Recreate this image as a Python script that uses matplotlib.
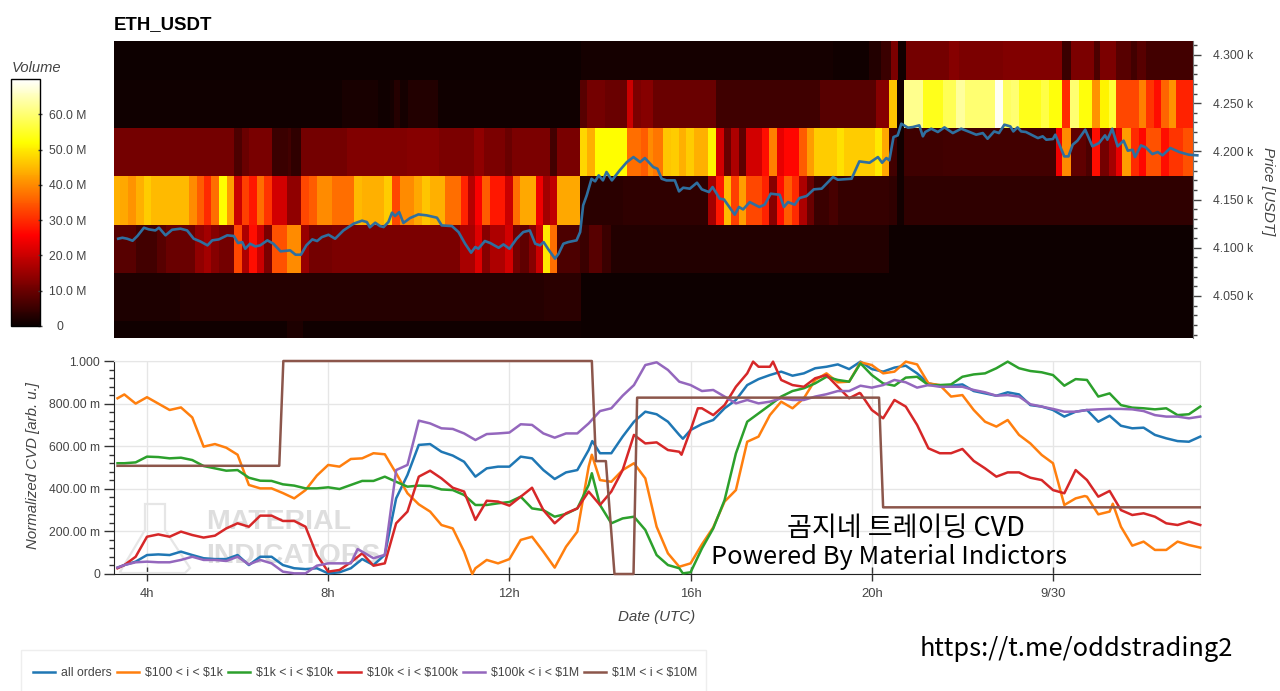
import numpy as np
import matplotlib
matplotlib.use("Agg")
import matplotlib.pyplot as plt
from matplotlib.patches import Rectangle, Polygon
from matplotlib.ticker import FixedLocator, MultipleLocator
from matplotlib.transforms import ScaledTranslation

plt.rcParams['font.family'] = ['Liberation Sans', 'DejaVu Sans']
plt.rcParams['text.parse_math'] = False

title = "ETH_USDT"
START_HOUR = 3.27
BAR_MINUTES = 8

# heatmap: bar-index edges and volume in millions for each price bin
edge_4300 = [0,78,120,126,128,129.7,130.9,132.2,139.4,141.1,148.3,158.3,159.7,163.6,164.6,167.2,169.7,170.8,172.2,180]
vol_4300 = [0.5,1.2,0.8,2.5,5,12,1,11,13,12,12.5,5,12,7,12,8,6,8,6]
edge_4250 = [0,38,44,46,46.7,47.8,49,54,77.8,79,82,85.6,86.7,88,90,100.5,117.8,127.2,129.4,130.7,131.9,135,138.3,140.6,142,147,148.3,149.7,151.1,154.7,156,158.3,159.6,161,163.3,164.6,166,167.2,171,172.3,173.6,174.7,176,177.3,180]
vol_4250 = [0.8,1.5,0.8,1.2,3,1.2,2.5,0.8,8,11,10,20,12,13,10,5.5,8,13,46,1,62,54,58,63,60,69,59,60,54,57,53,30,60,53,41,51,56,33,39,31,27,36,41,29]
edge_4200 = [0,20,21.3,22.5,26.3,29,29.6,31.2,38.9,48.9,54.2,60,61.7,65.3,66.4,72.8,74,77.8,78.9,80.3,85.6,88,89.2,90,91.7,93,94.3,95.4,96.8,99.2,100.4,101.8,103,104.3,105.5,108.2,109.3,110.7,111.8,114.3,115.6,116.8,120.6,121.9,127,128.2,129.4,130.7,131.9,138.3,157.2,158.3,159.7,162.2,163.3,164.6,166,167.2,168.3,169.7,171,172.2,174.7,176,178.4,180]
vol_4200 = [11,7,10,11.5,5,6,4,11,12.5,13,12,14,12,10,12,6,11.5,48,44,52,37,35,40,38,46,47,44,47,44,51,21,10,17,9,21,27,39,23,26,35,42,47,49,47,50,43,6,1,5.5,6,24,40,9,7,27,11,16,23,42,30,26,34,27,31,34]
edge_4150 = [0,1,2.3,3.7,5,6.1,12.5,13.8,15,16.2,17.5,18.8,20,21.3,22.5,23.8,25,26.3,28.8,31.2,32.5,33.8,36.4,40.1,41.4,45,46.4,47.7,50.1,51.4,52.7,55.2,57.9,59.1,60.3,61.5,62.8,65.3,66.6,67.8,70.4,71.6,72.8,74,77.8,85,99.2,100.4,101.8,103,104.3,105.5,108.2,109.3,110.7,111.8,113.2,114.3,115.6,116.8,119.4,120.8,129.4,130.7,131.9,180]
vol_4150 = [44,43,41,44,47,45,40,35,30,37,52,42,20,32,28,37,31,21,14,33,35,40,37,45,44,47,33,40,43,46,44,37,29,18,25,35,28,20,37,43,24,16,19,43,3.5,4,16,28,45,32,42,33,29,13,27,35,30,17,10,5,6.5,4.5,4,1,4]
edge_4100 = [0,3.6,7.2,8.6,13.6,15,16.2,17.5,20,21.3,22.5,23.8,25,26.3,28.8,31.2,32.5,36.4,57.8,60.3,61.5,62.8,65.3,66.6,67.8,69.2,70.4,71.6,72.8,74,77.8,79.2,81.4,82.9,129.4,180]
vol_4100 = [8,6,8,10,14,16,13,11,33,17,27,20,12,34,40,15,11,12,16.5,22,13,17,21,11,9,13,20,50,37,7,5,8,5,2.5,0.4]
edge_4050 = [0,11,71.7,78,180]
vol_4050 = [2,3,3.5,0.4]
edge_4000 = [0,28.8,31.5,78,180]
vol_4000 = [0.6,2,0.6,0.3]
price_bins = [4300, 4250, 4200, 4150, 4100, 4050, 4000]

# price line: bar index and price
price_bar = [0.7,1.4,2.2,3.1,3.9,5,5.8,6.9,7.5,8.6,9.7,11.1,12.2,13.3,14.4,15.6,16.4,17.5,18.9,20,20.7,21.4,21.9,22.7,23.6,24.4,25.6,26.6,27.8,29.4,30.3,31.2,32.1,33.1,33.9,34.7,35.8,36.9,38.3,40,41.4,42.2,42.7,43.6,44.4,
             45,45.8,46.4,46.9,47.6,48.3,49.4,50.8,52.2,53.9,54.7,56.4,57.5,58.6,59.6,60.3,60.8,61.9,62.8,64.2,65,66,67.2,68.3,69.4,70.3,71.1,71.7,72.5,73.6,74.2,75,75.8,77.2,77.8,78.3,78.9,79.7,80.3,80.9,81.6,82.2,83.1,84.4,85.6,86.7,87.8,88.6,
             90,90.7,91.4,92.2,93.6,94.3,95,96.1,97.3,98.1,99.3,99.9,101.1,101.8,103.6,104.3,105,106.1,107.7,108.6,109.6,111.1,111.8,112.5,113.6,114.4,115.6,116.8,118.1,120,120.8,123.1,124.4,126.1,127.5,128.2,128.9,129.4,130.1,130.8,131.4,132.5,133.3,134.4,
             135,135.4,136.4,137.5,138.6,140,141.4,142.8,143.9,145,145.8,146.9,147.7,148.6,149.6,150.1,150.8,151.4,152.2,154.2,155,155.6,156.7,157.1,157.8,158.6,159.3,160,160.8,162.1,163.3,164.4,165.4,165.8,166.6,167.5,168.5,169.2,170,170.4,171.4,172.2,173.3,174.2,175,176.3,177.8,179.4,180.8]
price_usdt = [4109.4,4110.4,4109.4,4107.3,4112.2,4120.8,4119.1,4118,4120.8,4112.9,4118.7,4119.8,4118,4109.4,4106.6,4102.5,4107.7,4108.7,4112.9,4112.2,4104.9,4105.9,4099,4104.2,4101.4,4102.5,4107.7,4104.2,4096.3,4097.3,4092.8,4092.8,4102.5,4108.7,4107,4111.1,4113.5,4109.4,4118,4125,4128.1,4126.7,4121.2,4126,4122.5,
              4121.5,4126.7,4136.4,4132.9,4137,4125.7,4130.8,4134.6,4133.6,4131.2,4123.2,4122.5,4116.3,4104.2,4094.9,4100.8,4099,4107,4104.9,4100,4103.5,4099,4109.4,4116.3,4118,4104.2,4102.5,4105.9,4098.3,4088.7,4093.8,4104.2,4105.9,4107.7,4116.3,4144,4154.4,4171.6,4168.9,4175.1,4169.9,4178.6,4169.9,4180.3,4188.9,4194.1,4188.9,4193.1,
              4183.7,4182,4171.6,4169.9,4169.9,4158.5,4162.3,4161.3,4167.5,4160.6,4157.8,4163,4150.9,4150.2,4134.3,4142.3,4139.8,4147.4,4142.3,4144.7,4156.1,4155,4142.3,4147.4,4144.7,4151.6,4153.7,4160.6,4161.3,4173.4,4170.6,4171.6,4189.6,4188.2,4194.1,4188.2,4193.1,4190.7,4214.9,4216.6,4228.7,4224.6,4225.2,4227,
              4215.6,4220.1,4223.5,4220.1,4224.9,4219,4223.5,4220.1,4217.3,4219,4213.1,4220.7,4219,4227.7,4225.9,4220.7,4224.9,4220.7,4220.1,4213.8,4215.6,4212.1,4212.8,4217.3,4206.9,4194.8,4194.8,4206.9,4211.1,4222.5,4205.2,4208.6,4216.6,4212.1,4223.5,4205.2,4211.1,4200.7,4201.7,4194.1,4206.2,4204.1,4197.2,4199.3,4195.9,4203.5,4199.3,4196.5,4195.9]

# normalized CVD: common time grid (hours) and one list per order-size bucket
cvd_hours = [3.35] + list(np.arange(3.5, 27.5, 0.25))
cvd_all = [.03,.042,.058,.089,.092,.089,.105,.089,.074,.07,.07,.089,.042,.081,.081,.042,.027,.023,.027,.003,.008,.027,.07,.042,.09,
           .355,.465,.606,.61,.574,.556,.527,.457,.496,.504,.504,.551,.543,.488,.446,.477,.488,.582,.567,.567,.645,.715,.762,.75,
           .715,.653,.676,.704,.723,.778,.817,.887,.915,.934,.95,.931,.942,.966,.973,.984,.962,.997,.962,.95,.969,.978,.942,.895,
           .884,.884,.89,.859,.848,.837,.853,.843,.793,.786,.77,.739,.762,.77,.715,.743,.696,.684,.687,.653,.637,.624,.621,.645]
cvd_100_1k = [.825,.843,.80,.83,.80,.77,.782,.735,.598,.61,.593,.56,.418,.402,.402,.38,.355,.394,.462,.512,.504,.54,.543,.567,.562,
              .473,.379,.327,.293,.23,.214,.105,.027,.066,.05,.07,.16,.175,.105,.03,.128,.199,.504,.441,.433,.488,.52,.449,.222,
              .097,.034,.05,.139,.219,.34,.394,.621,.645,.746,.809,.778,.825,.911,.942,.90,.903,.994,.981,.942,.95,.997,.984,.895,
              .887,.833,.84,.77,.715,.692,.723,.653,.613,.559,.52,.324,.355,.363,.28,.293,.222,.133,.152,.113,.113,.152,.136,.124]
cvd_1k_10k = [.52,.52,.524,.551,.549,.543,.546,.535,.507,.496,.485,.488,.452,.438,.437,.421,.415,.402,.402,.407,.399,.418,.437,.437,.457,
              .433,.41,.415,.413,.397,.394,.371,.324,.324,.332,.338,.363,.308,.30,.269,.282,.308,.418,.324,.238,.261,.269,.207,.089,
              .042,.027,.008,.12,.214,.347,.566,.715,.754,.793,.833,.859,.872,.895,.926,.911,.903,.989,.934,.895,.884,.922,.926,.887,
              .887,.89,.926,.937,.942,.966,.997,.966,.953,.947,.934,.884,.915,.911,.833,.848,.793,.781,.778,.773,.778,.746,.75,.786]
cvd_10k_100k = [.027,.042,.081,.175,.186,.175,.199,.183,.171,.18,.214,.238,.222,.274,.274,.249,.249,.222,.089,.011,.019,.055,.097,.039,.05,
                .238,.293,.457,.485,.449,.405,.387,.254,.344,.34,.321,.363,.405,.30,.238,.285,.308,.387,.324,.387,.488,.653,.613,.618,
                .582,.574,.676,.778,.746,.793,.879,.942,.973,.973,.911,.887,.879,.919,.934,.879,.825,.848,.77,.731,.817,.786,.70,.59,
                .567,.567,.587,.531,.496,.457,.477,.477,.452,.441,.394,.379,.488,.441,.363,.39,.30,.277,.285,.269,.238,.23,.246,.23]
cvd_100k_1m = [.03,.042,.055,.058,.055,.055,.066,.081,.066,.066,.061,.081,.045,.066,.05,.011,.003,.003,.039,.05,.05,.05,.105,.074,.09,
               .488,.512,.72,.707,.684,.681,.66,.629,.657,.66,.664,.703,.70,.66,.64,.66,.66,.707,.765,.778,.837,.887,.981,.994,
               .958,.903,.887,.859,.864,.833,.801,.817,.801,.809,.825,.817,.817,.833,.844,.859,.859,.884,.875,.887,.911,.90,.875,.887,
               .879,.879,.879,.864,.853,.837,.84,.833,.797,.786,.775,.762,.762,.77,.773,.775,.775,.773,.765,.746,.739,.739,.731,.739]
# local peaks that fall between grid times
extra_all = ([13.83, 15.83], [.624, .635])
extra_100_1k = ([11.18, 13.82, 24.7, 25.32], [.0, .56, .366, .33])
extra_1k_10k = ([13.82, 15.83], [.473, .003])
extra_10k_100k = ([15.8, 16.16, 17.38, 17.82, 19.73], [.56, .778, .997, .997, .85])
extra_100k_1m = ([8.65], [.117])
# largest bucket moves in steps
step_hours = [3.35, 6.92, 7.01, 13.82, 13.91, 14.13, 14.32, 14.74, 14.82, 20.16, 20.25, 27.24]
cvd_1m_10m = [.508, .508, 1.0, 1.0, .53, .53, 0.0, 0.0, .828, .828, .313, .313]

legend_labels = ["all orders", "$100 < i < $1k", "$1k < i < $10k", "$10k < i < $100k", "$100k < i < $1M", "$1M < i < $10M"]
line_colors = ['#1f77b4', '#ff7f0e', '#2ca02c', '#d62728', '#9467bd', '#8c564b']
cvd_ticks = [0, .2, .4, .6, .8, 1.0]
cvd_tick_labels = ["0", "200.00 m", "400.00 m", "600.00 m", "800.00 m", "1.000"]
hour_ticks = [4, 8, 12, 16, 20, 24]
hour_labels = ["4h", "8h", "12h", "16h", "20h", "9/30"]
price_ticks = [4050, 4100, 4150, 4200, 4250, 4300]
price_labels = ["4.050 k", "4.100 k", "4.150 k", "4.200 k", "4.250 k", "4.300 k"]
volume_ticks = [0, 10, 20, 30, 40, 50, 60]

W, H = 1280, 691
GREY = '#444444'
fig = plt.figure(figsize=(W / 100, H / 100), dpi=100, facecolor='white')


def axes_px(left, top, right, bottom):
    return fig.add_axes([left / W, 1 - bottom / H, (right - left) / W, (bottom - top) / H])


def text_px(x, y, s, **kw):
    return fig.text(x / W, 1 - y / H, s, **kw)


def bar_to_hour(b):
    return START_HOUR + np.asarray(b, dtype=float) * BAR_MINUTES / 60


# ---- heatmap panel
ax = axes_px(114, 41, 1192.5, 338)
rows = [(edge_4300, vol_4300), (edge_4250, vol_4250), (edge_4200, vol_4200), (edge_4150, vol_4150),
        (edge_4100, vol_4100), (edge_4050, vol_4050), (edge_4000, vol_4000)]
mesh = None
for centre, (edges, vols) in zip(price_bins, rows):
    mesh = ax.pcolormesh(bar_to_hour(edges), [centre - 26, centre + 24], np.array([vols]),
                         cmap='hot', vmin=0, vmax=70, shading='flat', antialiased=False, linewidth=0)
ax.plot(bar_to_hour(price_bar), price_usdt, color='#2f6f9f', lw=1.9, clip_on=False, zorder=5)
ax.set_xlim(START_HOUR, START_HOUR + 24)
ax.set_ylim(4006.4, 4314.5)
ax.set_xticks([])
ax.yaxis.tick_right()
ax.yaxis.set_major_locator(FixedLocator(price_ticks))
ax.yaxis.set_minor_locator(MultipleLocator(10))
ax.set_yticklabels(price_labels, fontsize=8.7, color=GREY)
ax.tick_params(axis='y', which='major', length=6, width=1, color=GREY, pad=9)
ax.tick_params(axis='y', which='minor', length=3, width=1, color=GREY)
for s in ('top', 'left', 'bottom'):
    ax.spines[s].set_visible(False)
ax.spines['right'].set_color('#777777')
text_px(114, 25, title, fontsize=13.4, fontweight='bold', color='black', ha='left', va='center')
text_px(1268, 191, "Price [USDT]", fontsize=10.9, fontstyle='italic', color=GREY, rotation=-90, ha='center', va='center')

# ---- colour bar
cax = axes_px(11, 79, 40, 326)
cb = fig.colorbar(mesh, cax=cax)
cb.set_ticks(volume_ticks)
cb.set_ticklabels(["0" if v == 0 else f"{v:.1f} M" for v in volume_ticks])
cax.tick_params(axis='y', length=3, width=1, color=GREY, labelsize=8.7, labelcolor=GREY, pad=5, direction='inout')
cb.outline.set_edgecolor('black')
cb.outline.set_linewidth(1)
for lab in cax.get_yticklabels():
    if lab.get_text() == "0":
        lab.set_transform(lab.get_transform() + ScaledTranslation(7 / 100, 0, fig.dpi_scale_trans))
text_px(12, 68, "Volume", fontsize=10.6, fontstyle='italic', color=GREY, ha='left', va='center')

# ---- CVD panel
ax2 = axes_px(114, 361, 1200, 574)
ax2.set_xlim(3.272, 27.245)
ax2.set_ylim(0, 1)


def merged(values, extra=None):
    t, v = list(cvd_hours), list(values)
    if extra:
        t += extra[0]
        v += extra[1]
    order = np.argsort(t)
    return np.array(t)[order], np.array(v)[order]


# watermark
flask = [(120, 572), (145, 530), (145, 504), (165, 504), (165, 530), (190, 568), (185, 573), (122, 573)]
ax2.add_patch(Polygon([((x - 114) / 1086, (574 - y) / 213) for x, y in flask], closed=True, fill=False,
                      edgecolor='#e6e6e6', lw=1.6, transform=ax2.transAxes, zorder=1))
ax2.text(206 / W, 1 - 522 / H, "MATERIAL", transform=fig.transFigure, fontsize=20.5, fontweight='bold',
         color='#dedede', ha='left', va='center', zorder=1)
ax2.text(206 / W, 1 - 556 / H, "INDICATORS", transform=fig.transFigure, fontsize=20.5, fontweight='bold',
         color='#dedede', ha='left', va='center', zorder=1)

series = [(cvd_all, extra_all), (cvd_100_1k, extra_100_1k), (cvd_1k_10k, extra_1k_10k),
          (cvd_10k_100k, extra_10k_100k), (cvd_100k_1m, extra_100k_1m)]
handles = []
for (vals, extra), col, lab in zip(series, line_colors, legend_labels):
    t, v = merged(vals, extra)
    h, = ax2.plot(t, v, color=col, lw=1.8, label=lab, clip_on=False, zorder=3)
    handles.append(h)
h, = ax2.plot(step_hours, cvd_1m_10m, color=line_colors[5], lw=1.8, label=legend_labels[5], clip_on=False, zorder=4)
handles.append(h)

ax2.xaxis.set_major_locator(FixedLocator(hour_ticks))
ax2.set_xticklabels(hour_labels, fontsize=9.4, color=GREY)
ax2.yaxis.set_major_locator(FixedLocator(cvd_ticks))
ax2.yaxis.set_minor_locator(MultipleLocator(0.04))
ax2.set_yticklabels(cvd_tick_labels, fontsize=8.7, color=GREY)
ax2.grid(True, which='major', color='#e6e6e6', lw=1)
ax2.set_axisbelow(True)
ax2.tick_params(axis='x', which='major', direction='inout', length=10, width=1, color='#333333', pad=5)
ax2.tick_params(axis='y', which='major', length=7, width=1, color='#333333', pad=3)
ax2.tick_params(axis='y', which='minor', length=3.5, width=1, color='#333333')
for s in ('top', 'right'):
    ax2.spines[s].set_color('#e6e6e6')
for s in ('left', 'bottom'):
    ax2.spines[s].set_color('#222222')
text_px(33, 466, "Normalized CVD [arb. u.]", fontsize=10.8, fontstyle='italic', color=GREY, rotation=90, ha='center', va='center')
text_px(657, 617, "Date (UTC)", fontsize=10.9, fontstyle='italic', color=GREY, ha='center', va='center')

# ---- overlaid captions
cjk = ['Noto Sans CJK KR', 'DejaVu Sans']
text_px(906, 528, "곰지네 트레이딩 CVD", fontsize=19.5, family=cjk, color='black', ha='center', va='center', zorder=6)
text_px(889, 557, "Powered By Material Indictors", fontsize=18.3, family=cjk, color='black', ha='center', va='center', zorder=6)
text_px(1076, 649, "https://t.me/oddstrading2", fontsize=18.3, family=cjk, color='black', ha='center', va='center')

# ---- legend
fig.add_artist(Rectangle((21 / W, -0.02), 685 / W, 1 - 650 / H + 0.02, transform=fig.transFigure,
                         facecolor='white', edgecolor='#eeeeee', lw=1))
fig.legend(handles=handles, labels=legend_labels, loc='center left', bbox_to_anchor=(33 / W, 1 - 673 / H),
           ncol=6, frameon=False, fontsize=8.85, handlelength=1.8, handletextpad=0.5, columnspacing=0.4, borderpad=0,
           borderaxespad=0, labelcolor=GREY)

fig.savefig("out.png", dpi=100)
